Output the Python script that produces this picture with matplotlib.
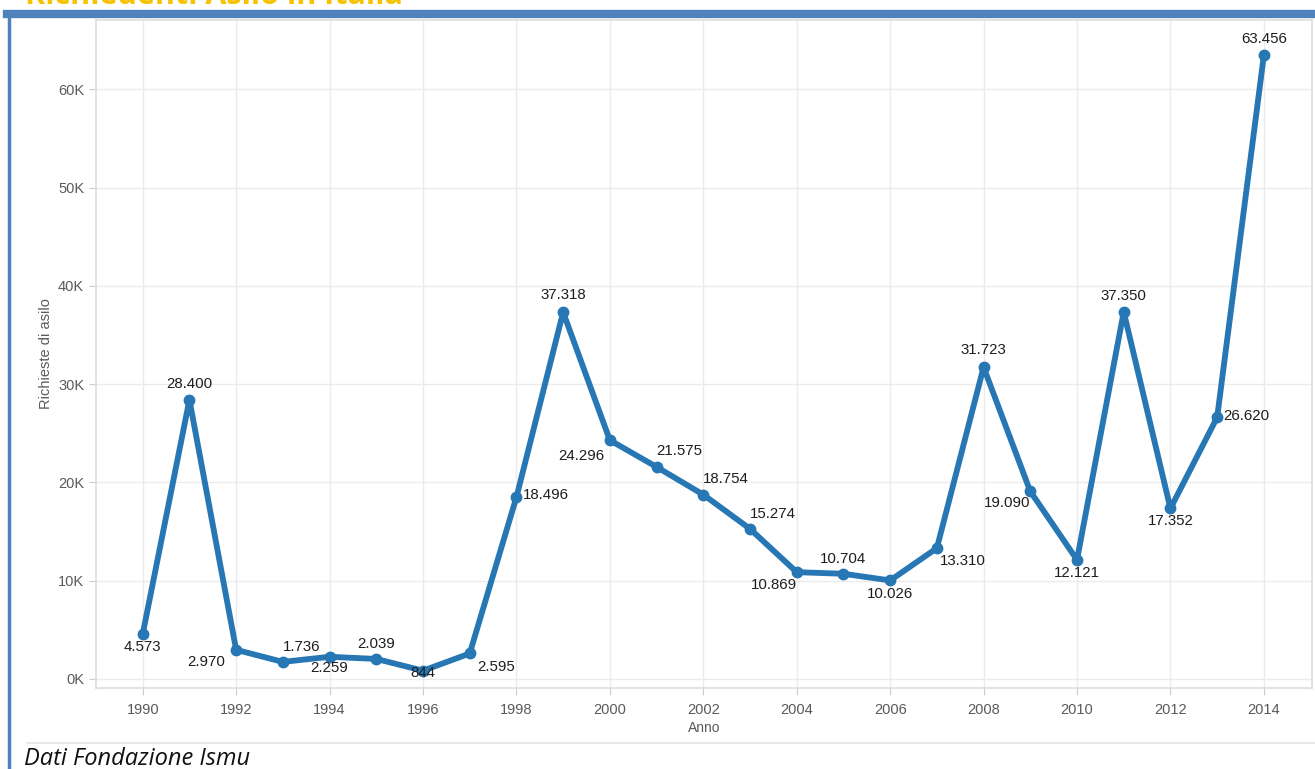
import numpy as np
import matplotlib.pyplot as plt
from matplotlib.ticker import FuncFormatter, MultipleLocator

plt.rcParams["font.family"] = ["Liberation Sans", "DejaVu Sans"]

# Richieste di asilo in Italia, 1990-2014
anni = list(range(1990, 2015))
richieste = [4573, 28400, 2970, 1736, 2259, 2039, 844, 2595, 18496, 37318,
             24296, 21575, 18754, 15274, 10869, 10704, 10026, 13310, 31723,
             19090, 12121, 37350, 17352, 26620, 63456]
etichette = ["4.573", "28.400", "2.970", "1.736", "2.259", "2.039", "844",
             "2.595", "18.496", "37.318", "24.296", "21.575", "18.754",
             "15.274", "10.869", "10.704", "10.026", "13.310", "31.723",
             "19.090", "12.121", "37.350", "17.352", "26.620", "63.456"]

# label offsets (pixels) from each point
offsets = [(0, -13), (0, 16), (-30, -12), (19, 15), (0, -11), (0, 15),
           (0, -2), (26, -14), (29, 2), (0, 17), (-29, -16), (23, 16),
           (23, 16), (23, 15), (-23, -13), (0, 15), (0, -14), (26, -13),
           (0, 17), (-23, -12), (0, -13), (0, 16), (0, -13), (29, 1), (0, 16)]

blue = "#2677b4"
grid_c = "#ebebeb"
tick_c = "#5a5a5a"

fig = plt.figure(figsize=(13.15, 7.69), dpi=100)
ax = fig.add_axes([0.073, 0.1053, 0.9247, 0.8687])

ax.plot(anni, richieste, color=blue, lw=4.2, marker="o", ms=7.5,
        solid_joinstyle="round", zorder=3)

for x, y, t, (dx, dy) in zip(anni, richieste, etichette, offsets):
    ax.annotate(t, (x, y), xytext=(dx, dy), textcoords="offset pixels",
                ha="center", va="center", fontsize=10.8, color="#1e1e1e",
                zorder=4)

ax.set_xlim(1989.0, 2015.03)
ax.set_ylim(-920, 67050)
ax.xaxis.set_major_locator(MultipleLocator(2))
ax.yaxis.set_major_locator(MultipleLocator(10000))
ax.yaxis.set_major_formatter(FuncFormatter(lambda v, p: f"{int(v / 1000)}K"))

ax.grid(True, color=grid_c, lw=1)
ax.set_axisbelow(True)
for s in ax.spines.values():
    s.set_color("#dddddd")
    s.set_linewidth(1.2)
ax.tick_params(colors="#cccccc", labelcolor=tick_c, labelsize=10.5, length=5)
ax.tick_params(axis="x", pad=6)

ax.set_xlabel("Anno", fontsize=10, color=tick_c, labelpad=3)
ax.set_ylabel("Richieste di asilo", fontsize=10.5, color=tick_c, labelpad=4)

# frame around the panel
fig.add_artist(plt.Line2D([7 / 1315, 1], [1 - 14 / 769, 1 - 14 / 769],
                          color="#4f81bd", lw=6))
fig.add_artist(plt.Line2D([8.5 / 1315, 8.5 / 1315], [0, 1 - 12 / 769],
                          color="#4f81bd", lw=2.5))
fig.add_artist(plt.Line2D([27 / 1315, 1], [1 - 743 / 769, 1 - 743 / 769],
                          color="#e4e4e4", lw=1.2))

fig.text(25 / 1315, 1 - 4 / 769, "Richiedenti Asilo in Italia",
         fontsize=22, fontweight="bold", color="#f7c200",
         family="Open Sans", va="baseline")
fig.text(24 / 1315, 1 - 765 / 769, "Dati Fondazione Ismu",
         fontsize=17, style="italic", color="#111111",
         family="Open Sans", va="baseline")

fig.savefig("out.png", dpi=100)
